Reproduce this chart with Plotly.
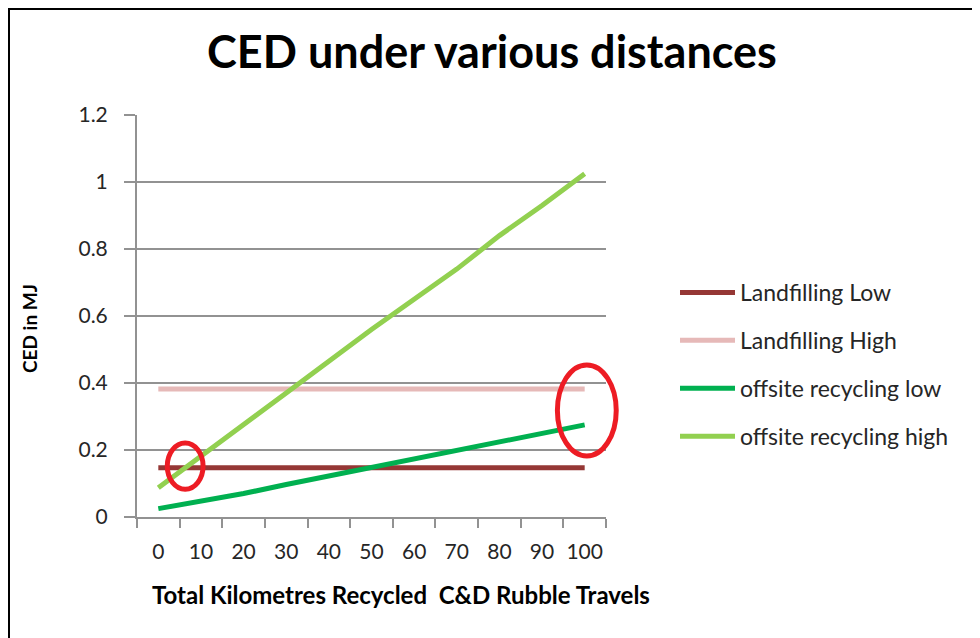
import plotly.graph_objects as go

# distances (km) and CED values (MJ)
distances = [0, 10, 20, 30, 40, 50, 60, 70, 80, 90, 100]
landfilling_low = [0.147] * 11
landfilling_high = [0.382] * 11
offsite_low = [0.025, 0.047, 0.070, 0.097, 0.122, 0.147, 0.172, 0.200, 0.225, 0.250, 0.275]
offsite_high = [0.087, 0.180, 0.275, 0.370, 0.465, 0.560, 0.650, 0.740, 0.840, 0.930, 1.025]

series_names = ["Landfilling Low", "Landfilling High", "offsite recycling low", "offsite recycling high"]
series_colors = ["#953735", "#E6B9B8", "#00B050", "#92D050"]

# red hand-drawn circles: (category index, CED value, x radius in categories, y radius in MJ)
circles = [(0.63, 0.152, 0.42, 0.069), (10.05, 0.318, 0.69, 0.136)]

# page has an 8px body margin, so the figure is a bit smaller than the window
W, H = 972, 630
L, R, T, B = 129, 374, 107, 121
pw, ph = W - L - R, H - T - B
FONT = "Lato"
TXT = "#262626"
GRID = "#929292"
YMAX = 1.2
NCAT = len(distances)


def px_x(x):
    return (x - L) / pw


def px_y(y):
    return (H - y - B) / ph


fig = go.Figure()
for name, vals, col in zip(series_names,
                           [landfilling_low, landfilling_high, offsite_low, offsite_high],
                           series_colors):
    fig.add_trace(go.Scatter(x=[str(d) for d in distances], y=vals, name=name,
                             mode="lines", line=dict(color=col, width=5),
                             legendgroup=name))

# circles go in paper coords so the right one is not clipped by the plot area
for cx, cy, rx, ry in circles:
    fig.add_shape(type="circle", xref="paper", yref="paper",
                  x0=(cx - rx + 0.5) / NCAT, x1=(cx + rx + 0.5) / NCAT,
                  y0=(cy - ry) / YMAX, y1=(cy + ry) / YMAX,
                  line=dict(color="#ED1C24", width=5))

# outer frame of the picture (right and bottom edges fall off the page)
fig.add_shape(type="rect", xref="paper", yref="paper",
              x0=px_x(1), x1=px_x(W + 20), y0=px_y(H + 20), y1=px_y(1),
              line=dict(color="black", width=2))

fig.add_annotation(text="<b>CED in MJ</b>", textangle=-90, xref="paper", yref="paper",
                   x=px_x(21), y=px_y(321), xanchor="center", yanchor="middle",
                   showarrow=False, font=dict(size=19, color="black", family=FONT))
fig.add_annotation(text="<b>Total Kilometres Recycled  C&D Rubble Travels</b>",
                   xref="paper", yref="paper", x=px_x(393), y=px_y(586),
                   xanchor="center", yanchor="middle", showarrow=False,
                   font=dict(size=24, color="black", family=FONT))

fig.update_layout(
    width=W, height=H,
    margin=dict(l=L, r=R, t=T, b=B),
    paper_bgcolor="white", plot_bgcolor="white",
    font=dict(family=FONT, color=TXT),
    title=dict(text="<b>CED under various distances</b>", x=px_x(484), xref="paper",
               xanchor="center", y=1 - 44 / H, yanchor="middle",
               font=dict(size=45, color="black", family=FONT)),
    legend=dict(x=px_x(667), y=px_y(263), xanchor="left", yanchor="top",
                font=dict(size=23, color=TXT, family=FONT),
                tracegroupgap=15, itemwidth=55, bgcolor="rgba(0,0,0,0)"),
    showlegend=True,
)
fig.update_xaxes(type="category", tickson="boundaries", ticks="outside", ticklen=9,
                 tickcolor=GRID, tickwidth=2, showline=True, linecolor=GRID, linewidth=2,
                 showgrid=False, tickfont=dict(size=21, color=TXT), automargin=False,
                 tickangle=0, ticklabelstandoff=15,
                 range=[-0.5, NCAT - 0.5])
fig.update_yaxes(range=[0, YMAX], dtick=0.2, ticks="outside", ticklen=11,
                 tickcolor=GRID, tickwidth=2, showline=True, linecolor=GRID, linewidth=2,
                 gridcolor=GRID, gridwidth=2, zeroline=False, automargin=False,
                 tickfont=dict(size=21, color=TXT), ticklabelstandoff=12)

fig.write_html("out.html")
